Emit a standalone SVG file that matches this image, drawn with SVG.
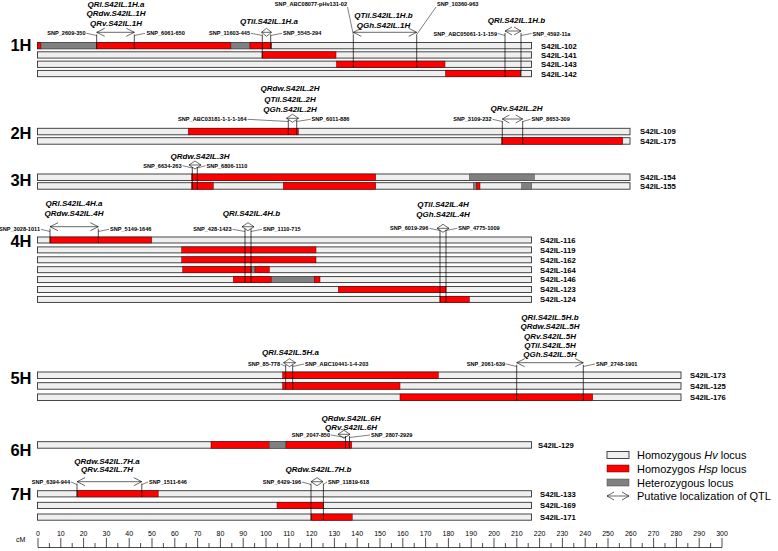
<svg xmlns="http://www.w3.org/2000/svg" width="778" height="551" viewBox="0 0 778 551">
<style>
.bar{fill:#efefef;stroke:#333;stroke-width:.9}
.hsp{fill:#f00;stroke:#500;stroke-width:.5}
.het{fill:#808080;stroke:#444;stroke-width:.5}
.mk{stroke:#000;stroke-width:.7;fill:none}
.ld{stroke:#000;stroke-width:.5;fill:none}
.ar{stroke:#000;stroke-width:.6;fill:none}
text{font-family:"Liberation Sans",Arial,sans-serif;fill:#000}
.q{font-size:8px;font-style:italic;font-weight:bold;text-anchor:middle}
.snp{font-size:5.6px;font-weight:bold}
.e{text-anchor:end}
.il{font-size:7.7px;font-weight:bold}
.chr{font-size:16.5px;font-weight:bold;text-anchor:end}
.tk{font-size:7px;text-anchor:middle}
.lg{font-size:11px}
</style>
<rect width="778" height="551" fill="#fff"/>

<g id="chr-1H">
<text class="chr" x="31.5" y="51">1H</text>
<g id="S42IL-102"><rect class="bar" x="37.5" y="42.5" width="494" height="6.3"/><rect class="hsp" x="37.5" y="42.5" width="3.5" height="6.3"/><rect class="het" x="41" y="42.5" width="55.7" height="6.3"/><rect class="hsp" x="96.7" y="42.5" width="134.3" height="6.3"/><rect class="het" x="231" y="42.5" width="19" height="6.3"/><rect class="hsp" x="250" y="42.5" width="21.5" height="6.3"/><text class="il" x="541" y="48.6">S42IL-102</text></g>
<g id="S42IL-141"><rect class="bar" x="37.5" y="51.8" width="494" height="6.3"/><rect class="hsp" x="262" y="51.8" width="74" height="6.3"/><text class="il" x="541" y="57.9">S42IL-141</text></g>
<g id="S42IL-143"><rect class="bar" x="37.5" y="61.1" width="494" height="6.3"/><rect class="hsp" x="336.5" y="61.1" width="108.5" height="6.3"/><text class="il" x="541" y="67.2">S42IL-143</text></g>
<g id="S42IL-142"><rect class="bar" x="37.5" y="70.4" width="494" height="6.3"/><rect class="hsp" x="445.5" y="70.4" width="75.2" height="6.3"/><text class="il" x="541" y="76.5">S42IL-142</text></g>
<text class="q" x="116" y="7">QRl.S42IL.1H.a</text>
<text class="q" x="116" y="16.3">QRdw.S42IL.1H</text>
<text class="q" x="116" y="25.7">QRv.S42IL.1H</text>
<text class="q" x="269" y="24">QTil.S42IL.1H.a</text>
<text class="q" x="383.5" y="18">QTil.S42IL.1H.b</text>
<text class="q" x="383.5" y="28">QGh.S42IL.1H</text>
<text class="q" x="516.5" y="23">QRl.S42IL.1H.b</text>
<text class="snp e" x="85.5" y="35.3">SNP_2609-350</text>
<text class="snp" x="146.5" y="35.3">SNP_6061-650</text>
<text class="snp e" x="250" y="35.3">SNP_11603-445</text>
<text class="snp" x="283" y="35.3">SNP_5545-294</text>
<text class="snp e" x="347" y="6">SNP_ABC08077-pHv131-02</text>
<text class="snp" x="437" y="6">SNP_10360-963</text>
<text class="snp e" x="497" y="35.5">SNP_ABC05061-1-1-159</text>
<text class="snp" x="532.5" y="35.5">SNP_4592-11a</text>
</g>

<g id="chr-2H">
<text class="chr" x="31.5" y="138.5">2H</text>
<g id="S42IL-109"><rect class="bar" x="37.5" y="128.3" width="592.5" height="6.5"/><rect class="hsp" x="188.3" y="128.3" width="110" height="6.5"/><text class="il" x="640" y="134.4">S42IL-109</text></g>
<g id="S42IL-175"><rect class="bar" x="37.5" y="137.7" width="592.5" height="6.5"/><rect class="hsp" x="501.7" y="137.7" width="121" height="6.5"/><text class="il" x="640" y="143.8">S42IL-175</text></g>
<text class="q" x="290" y="91.3">QRdw.S42IL.2H</text>
<text class="q" x="290" y="102">QTil.S42IL.2H</text>
<text class="q" x="290" y="112.3">QGh.S42IL.2H</text>
<text class="q" x="516.5" y="110.5">QRv.S42IL.2H</text>
<text class="snp e" x="246.5" y="121.3">SNP_ABC03181-1-1-1-164</text>
<text class="snp" x="311.5" y="121.3">SNP_6011-886</text>
<text class="snp e" x="491.5" y="121.3">SNP_3109-232</text>
<text class="snp" x="531.5" y="121.3">SNP_8653-309</text>
</g>

<g id="chr-3H">
<text class="chr" x="31.5" y="186">3H</text>
<g id="S42IL-154"><rect class="bar" x="37.5" y="174" width="592.5" height="6.5"/><rect class="hsp" x="191.7" y="174" width="184" height="6.5"/><rect class="het" x="469.3" y="174" width="65" height="6.5"/><text class="il" x="640" y="180.1">S42IL-154</text></g>
<g id="S42IL-155"><rect class="bar" x="37.5" y="182.7" width="592.5" height="6.5"/><rect class="hsp" x="191.7" y="182.7" width="21.6" height="6.5"/><rect class="hsp" x="283.3" y="182.7" width="92.4" height="6.5"/><rect class="het" x="473.3" y="182.7" width="3.4" height="6.5"/><rect class="hsp" x="476.7" y="182.7" width="3.3" height="6.5"/><rect class="het" x="521.7" y="182.7" width="10" height="6.5"/><text class="il" x="640" y="188.8">S42IL-155</text></g>
<text class="q" x="200" y="158.5">QRdw.S42IL.3H</text>
<text class="snp e" x="181.5" y="167.7">SNP_6634-263</text>
<text class="snp" x="206.5" y="167.7">SNP_6806-1110</text>
</g>

<g id="chr-4H">
<text class="chr" x="31.5" y="247">4H</text>
<g id="S42IL-116"><rect class="bar" x="37.5" y="237" width="494" height="6"/><rect class="hsp" x="50" y="237" width="101.7" height="6"/><text class="il" x="540" y="242.8">S42IL-116</text></g>
<g id="S42IL-119"><rect class="bar" x="37.5" y="246.9" width="494" height="6"/><rect class="hsp" x="181.7" y="246.9" width="134.3" height="6"/><text class="il" x="540" y="252.7">S42IL-119</text></g>
<g id="S42IL-162"><rect class="bar" x="37.5" y="256.8" width="494" height="6"/><rect class="hsp" x="181.7" y="256.8" width="134.3" height="6"/><text class="il" x="540" y="262.6">S42IL-162</text></g>
<g id="S42IL-164"><rect class="bar" x="37.5" y="266.7" width="494" height="6"/><rect class="hsp" x="182.7" y="266.7" width="69" height="6"/><rect class="het" x="251.7" y="266.7" width="3.3" height="6"/><rect class="hsp" x="255" y="266.7" width="14.3" height="6"/><text class="il" x="540" y="272.5">S42IL-164</text></g>
<g id="S42IL-146"><rect class="bar" x="37.5" y="276.6" width="494" height="6"/><rect class="hsp" x="233.3" y="276.6" width="38.4" height="6"/><rect class="het" x="271.7" y="276.6" width="42.6" height="6"/><rect class="hsp" x="314.3" y="276.6" width="5.7" height="6"/><text class="il" x="540" y="282.4">S42IL-146</text></g>
<g id="S42IL-123"><rect class="bar" x="37.5" y="286.5" width="494" height="6"/><rect class="hsp" x="338.3" y="286.5" width="107.7" height="6"/><text class="il" x="540" y="292.3">S42IL-123</text></g>
<g id="S42IL-124"><rect class="bar" x="37.5" y="296.4" width="494" height="6"/><rect class="hsp" x="440" y="296.4" width="29.3" height="6"/><text class="il" x="540" y="302.2">S42IL-124</text></g>
<text class="q" x="74" y="206.3">QRl.S42IL.4H.a</text>
<text class="q" x="74" y="216.3">QRdw.S42IL.4H</text>
<text class="q" x="251.5" y="216.3">QRl.S42IL.4H.b</text>
<text class="q" x="443" y="207">QTil.S42IL.4H</text>
<text class="q" x="443" y="217">QGh.S42IL.4H</text>
<text class="snp e" x="40" y="231.3">SNP_3028-1011</text>
<text class="snp" x="110" y="231.3">SNP_5149-1646</text>
<text class="snp e" x="231.5" y="231.3">SNP_428-1423</text>
<text class="snp" x="263" y="231.3">SNP_1110-715</text>
<text class="snp e" x="428.3" y="230.3">SNP_6019-296</text>
<text class="snp" x="458.3" y="230.3">SNP_4775-1009</text>
</g>

<g id="chr-5H">
<text class="chr" x="31.5" y="383.5">5H</text>
<g id="S42IL-173"><rect class="bar" x="37.5" y="372" width="643.5" height="6.5"/><rect class="hsp" x="282.7" y="372" width="155.6" height="6.5"/><text class="il" x="690" y="378.1">S42IL-173</text></g>
<g id="S42IL-125"><rect class="bar" x="37.5" y="382.7" width="643.5" height="6.5"/><rect class="hsp" x="282.7" y="382.7" width="117.3" height="6.5"/><text class="il" x="690" y="388.8">S42IL-125</text></g>
<g id="S42IL-176"><rect class="bar" x="37.5" y="394" width="643.5" height="6.5"/><rect class="hsp" x="400" y="394" width="192.7" height="6.5"/><text class="il" x="690" y="400.1">S42IL-176</text></g>
<text class="q" x="290.5" y="355">QRl.S42IL.5H.a</text>
<text class="q" x="550" y="319.7">QRl.S42IL.5H.b</text>
<text class="q" x="550" y="329">QRdw.S42IL.5H</text>
<text class="q" x="550" y="338.7">QRv.S42IL.5H</text>
<text class="q" x="550" y="347.5">QTil.S42IL.5H</text>
<text class="q" x="550" y="357">QGh.S42IL.5H</text>
<text class="snp e" x="280" y="366">SNP_85-778</text>
<text class="snp" x="305" y="366">SNP_ABC10441-1-4-203</text>
<text class="snp e" x="505" y="366">SNP_2061-639</text>
<text class="snp" x="596" y="366">SNP_2748-1901</text>
</g>

<g id="chr-6H">
<text class="chr" x="31.5" y="456">6H</text>
<g id="S42IL-129"><rect class="bar" x="37.5" y="441.7" width="494" height="6.5"/><rect class="hsp" x="211" y="441.7" width="58.3" height="6.5"/><rect class="het" x="269.3" y="441.7" width="16.7" height="6.5"/><rect class="hsp" x="286" y="441.7" width="65.7" height="6.5"/><text class="il" x="538" y="447.8">S42IL-129</text></g>
<text class="q" x="351" y="420.7">QRdw.S42IL.6H</text>
<text class="q" x="351" y="430.3">QRv.S42IL.6H</text>
<text class="snp e" x="330" y="437">SNP_2047-850</text>
<text class="snp" x="371" y="437">SNP_2807-2929</text>
</g>

<g id="chr-7H">
<text class="chr" x="31.5" y="500">7H</text>
<g id="S42IL-133"><rect class="bar" x="37.5" y="490.7" width="494" height="6.2"/><rect class="hsp" x="77" y="490.7" width="81.2" height="6.2"/><text class="il" x="540" y="496.6">S42IL-133</text></g>
<g id="S42IL-169"><rect class="bar" x="37.5" y="502.3" width="494" height="6.2"/><rect class="hsp" x="277" y="502.3" width="46.4" height="6.2"/><text class="il" x="540" y="508.2">S42IL-169</text></g>
<g id="S42IL-171"><rect class="bar" x="37.5" y="514" width="494" height="6.2"/><rect class="hsp" x="311" y="514" width="41.2" height="6.2"/><text class="il" x="540" y="519.9">S42IL-171</text></g>
<text class="q" x="107" y="463.7">QRdw.S42IL.7H.a</text>
<text class="q" x="107" y="472.3">QRv.S42IL.7H</text>
<text class="q" x="318.5" y="472.3">QRdw.S42IL.7H.b</text>
<text class="snp e" x="70" y="484">SNP_6394-944</text>
<text class="snp" x="149" y="484">SNP_1511-646</text>
<text class="snp e" x="301" y="484">SNP_6429-196</text>
<text class="snp" x="328" y="484">SNP_11819-618</text>
</g>

<g id="connectors">
<path class="mk" d="M96.7 34.5V48.8M134.3 34.5V48.8M262.3 34.5V58.1M270.7 34.5V48.8M353.3 34.5V67.4M416.7 34.5V67.4M505 33V76.7M521 33V76.7"/>
<path class="mk" d="M288.3 120V134.8M296.7 120V134.8M502.3 121V144.2M522.7 121V144.2"/>
<path class="mk" d="M192.3 167V189.2M197.3 167V189.2"/>
<path class="mk" d="M50 228.7V243M98.3 228.7V243M245 228.7V282.6M251 228.7V282.6M440 230.3V302.4M446 230.3V302.4"/>
<path class="mk" d="M285.7 364.7V389.2M292.7 364.7V389.2M516.7 364.7V400.5M583.3 364.7V400.5"/>
<path class="mk" d="M345.5 436V448.2M349.5 436V448.2"/>
<path class="mk" d="M77 483.7V496.9M141.8 483.7V496.9M311 483.7V520.2M323.4 483.7V520.2"/>
<path class="ld" d="M86.5 33.3L96.7 35.5M134.3 35.5L145 33.3M251 33.3L262.3 35.5M270.7 35.5L282 33.3M347.5 7L353.3 34.5M436 7L416.7 34.5M498 33.5L505 35.5M521 35.5L531.5 33.5"/>
<path class="ld" d="M247.5 119.3L288.3 121.5M296.7 121.5L310.5 119.3M492.5 119.3L502.3 121.5M522.7 121.5L530.5 119.3"/>
<path class="ld" d="M182.5 165.7L192.3 168M197.3 168L205.5 165.7"/>
<path class="ld" d="M41 229.3L50 231.5M98.3 231.5L109 229.3M232.5 229.3L245 231.5M251 231.5L262 229.3M429.3 228.3L440 230.5M446 230.5L457.3 228.3"/>
<path class="ld" d="M281 364L285.7 366.5M292.7 366.5L304 364M506 364L516.7 366.5M583.3 366.5L595 364"/>
<path class="ld" d="M331 435L345.5 437.5M349.5 437.5L370 435"/>
<path class="ld" d="M71 482L77 484.5M141.8 484.5L148 482M302 482L311 484.5M323.4 484.5L327 482"/>
<path class="ar" d="M96.7 32.3H134.3M104.7 28.3L96.7 32.3L104.7 36.3M126.3 28.3L134.3 32.3L126.3 36.3"/>
<path class="ar" d="M261.5 32.3H271.5M266.5 28.3L261.5 32.3L266.5 36.3L271.5 32.3L266.5 28.3"/>
<path class="ar" d="M353.3 32.3H416.7M361.3 28.3L353.3 32.3L361.3 36.3M408.7 28.3L416.7 32.3L408.7 36.3"/>
<path class="ar" d="M505 31H521M512 27L505 31L512 35M514 27L521 31L514 35"/>
<path class="ar" d="M286.5 118.3H298.5M292.5 114.3L286.5 118.3L292.5 122.3L298.5 118.3L292.5 114.3"/>
<path class="ar" d="M502.3 119H522.7M509.3 115L502.3 119L509.3 123M515.7 115L522.7 119L515.7 123"/>
<path class="ar" d="M189 165H201M195 161L189 165L195 169L201 165L195 161"/>
<path class="ar" d="M50 226.7H98.3M58 222.7L50 226.7L58 230.7M90.3 222.7L98.3 226.7L90.3 230.7"/>
<path class="ar" d="M242 226.7H254M248 222.7L242 226.7L248 230.7L254 226.7L248 222.7"/>
<path class="ar" d="M437 228.3H449M443 224.3L437 228.3L443 232.3L449 228.3L443 224.3"/>
<path class="ar" d="M283.5 362.7H295.5M289.5 358.7L283.5 362.7L289.5 366.7L295.5 362.7L289.5 358.7"/>
<path class="ar" d="M516.7 362.7H583.3M524.7 358.7L516.7 362.7L524.7 366.7M575.3 358.7L583.3 362.7L575.3 366.7"/>
<path class="ar" d="M338 434.3H350M344 430.3L338 434.3L344 438.3L350 434.3L344 430.3"/>
<path class="ar" d="M77 481.7H141.8M85 477.7L77 481.7L85 485.7M133.8 477.7L141.8 481.7L133.8 485.7"/>
<path class="ar" d="M311 481.7H323M317 477.7L311 481.7L317 485.7L323 481.7L317 477.7"/>
</g>

<g id="legend">
<rect class="bar" x="607" y="451.5" width="22" height="7"/>
<text class="lg" x="637" y="459">Homozygous <tspan font-style="italic">Hv</tspan> locus</text>
<rect class="hsp" x="607" y="465" width="22" height="7"/>
<text class="lg" x="637" y="472.5">Homozygos <tspan font-style="italic">Hsp</tspan> locus</text>
<rect class="het" x="607" y="479" width="22" height="7"/>
<text class="lg" x="637" y="486.5">Heterozygous locus</text>
<path class="ar" d="M607 496H629M614 492L607 496L614 500M622 492L629 496L622 500"/>
<text class="lg" x="637" y="500">Putative localization of QTL</text>
</g>

<g id="axis">
<text x="16" y="542" style="font-size:7px">cM</text>
<path stroke="#000" stroke-width=".7" fill="none" d="M38 547.5H722M38 538V547.5M60.8 538V547.5M83.6 538V547.5M106.4 538V547.5M129.2 538V547.5M152 538V547.5M174.8 538V547.5M197.6 538V547.5M220.4 538V547.5M243.2 538V547.5M266 538V547.5M288.8 538V547.5M311.6 538V547.5M334.4 538V547.5M357.2 538V547.5M380 538V547.5M402.8 538V547.5M425.6 538V547.5M448.4 538V547.5M471.2 538V547.5M494 538V547.5M516.8 538V547.5M539.6 538V547.5M562.4 538V547.5M585.2 538V547.5M608 538V547.5M630.8 538V547.5M653.6 538V547.5M676.4 538V547.5M699.2 538V547.5M722 538V547.5M49.4 543V547.5M72.2 543V547.5M95 543V547.5M117.8 543V547.5M140.6 543V547.5M163.4 543V547.5M186.2 543V547.5M209 543V547.5M231.8 543V547.5M254.6 543V547.5M277.4 543V547.5M300.2 543V547.5M323 543V547.5M345.8 543V547.5M368.6 543V547.5M391.4 543V547.5M414.2 543V547.5M437 543V547.5M459.8 543V547.5M482.6 543V547.5M505.4 543V547.5M528.2 543V547.5M551 543V547.5M573.8 543V547.5M596.6 543V547.5M619.4 543V547.5M642.2 543V547.5M665 543V547.5M687.8 543V547.5M710.6 543V547.5"/>
<text class="tk" x="38" y="536">0</text><text class="tk" x="60.8" y="536">10</text><text class="tk" x="83.6" y="536">20</text><text class="tk" x="106.4" y="536">30</text><text class="tk" x="129.2" y="536">40</text><text class="tk" x="152" y="536">50</text><text class="tk" x="174.8" y="536">60</text><text class="tk" x="197.6" y="536">70</text><text class="tk" x="220.4" y="536">80</text><text class="tk" x="243.2" y="536">90</text><text class="tk" x="266" y="536">100</text><text class="tk" x="288.8" y="536">110</text><text class="tk" x="311.6" y="536">120</text><text class="tk" x="334.4" y="536">130</text><text class="tk" x="357.2" y="536">140</text><text class="tk" x="380" y="536">150</text><text class="tk" x="402.8" y="536">160</text><text class="tk" x="425.6" y="536">170</text><text class="tk" x="448.4" y="536">180</text><text class="tk" x="471.2" y="536">190</text><text class="tk" x="494" y="536">200</text><text class="tk" x="516.8" y="536">210</text><text class="tk" x="539.6" y="536">220</text><text class="tk" x="562.4" y="536">230</text><text class="tk" x="585.2" y="536">240</text><text class="tk" x="608" y="536">250</text><text class="tk" x="630.8" y="536">260</text><text class="tk" x="653.6" y="536">270</text><text class="tk" x="676.4" y="536">280</text><text class="tk" x="699.2" y="536">290</text><text class="tk" x="722" y="536">300</text>
</g>
</svg>
